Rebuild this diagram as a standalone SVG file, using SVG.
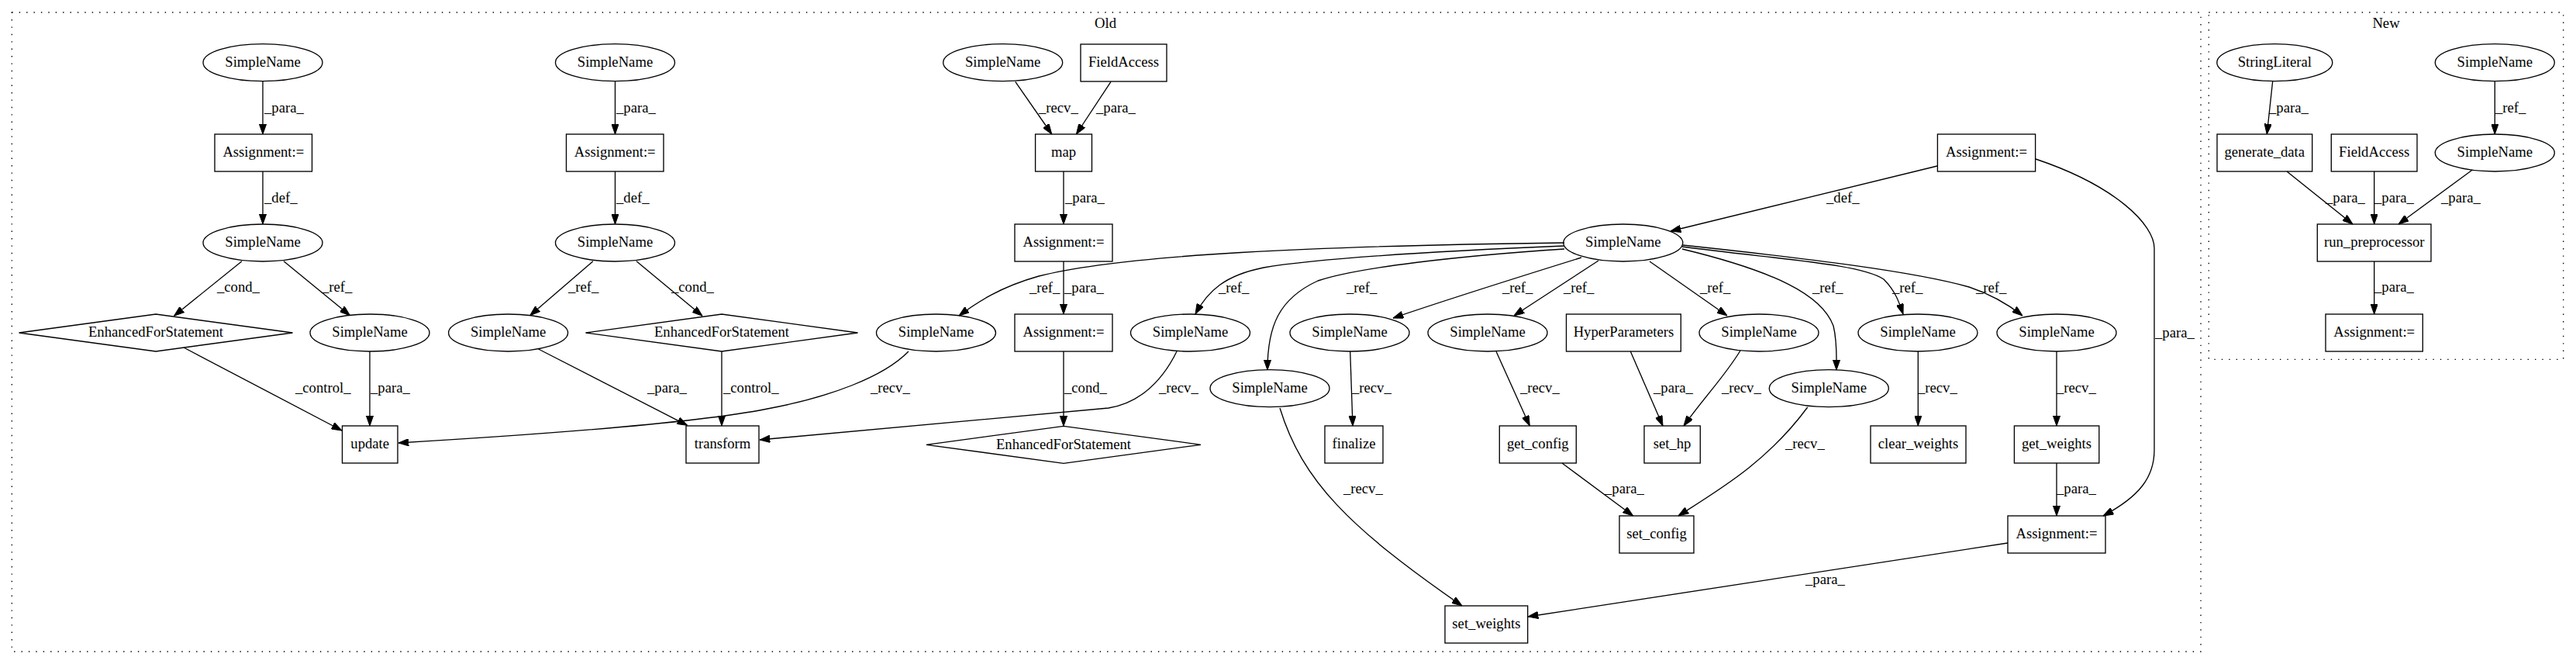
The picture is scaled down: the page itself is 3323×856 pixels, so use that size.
<svg xmlns="http://www.w3.org/2000/svg" width="3323" height="856" viewBox="0 0 3323 856">
<style>
text{font-family:"Liberation Serif","Times New Roman",serif;font-size:18.67px;fill:#000}
.m{text-anchor:middle}
.nd ellipse,.nd rect,.nd polygon{fill:none;stroke:#000;stroke-width:1.33}
.cl{fill:none;stroke:#000;stroke-width:1.33;stroke-dasharray:1.4,8}
#edges path{fill:none;stroke:#000;stroke-width:1.33;marker-end:url(#ah)}
</style>
<defs>
<marker id="ah" viewBox="0 0 13.3 9.4" refX="13.3" refY="4.7" markerWidth="13.3" markerHeight="9.4" markerUnits="userSpaceOnUse" orient="auto"><path d="M0,0 L13.3,4.7 L0,9.4 z" fill="#000" stroke="#000" stroke-width="1"/></marker>
</defs>
<rect width="3323" height="856" fill="#fff"/>
<g id="cluster_old"><rect class="cl" x="15.3" y="16" width="2823.7" height="824"/><text class="m" x="1426" y="36">Old</text></g>
<g id="cluster_new"><rect class="cl" x="2849.3" y="16" width="457.4" height="447.3"/><text class="m" x="3078" y="36">New</text></g>

<g id="edges">
<path d="M339,104.7 L339,173"/>
<path d="M339,221 L339,289"/>
<path d="M312,336.7 L224.5,407.3"/>
<path d="M366,336.7 L451.5,406.7"/>
<path d="M237,448 L441,555"/>
<path d="M477,453 L477,549"/>
<path d="M793.5,104.7 L793.5,173"/>
<path d="M793.5,221 L793.5,289"/>
<path d="M765,336.7 L683.7,406.7"/>
<path d="M821,336.7 L906,407.3"/>
<path d="M694.6,450 L886.6,548.3"/>
<path d="M931,453 L931,549"/>
<path d="M1309.8,105.3 L1356.8,173"/>
<path d="M1433,105.3 L1388.4,173"/>
<path d="M1372,221 L1372,289"/>
<path d="M1372,337 L1372,405"/>
<path d="M1372,453 L1372,549.3"/>
<path d="M1172,453 C1140,486 1070,512 990,527 C900,545 700,560 514,571"/>
<path d="M1518,453 C1495,500 1462,521 1430,526 L980,567"/>
<path d="M2018,313 C1700,317 1450,328 1340,356 C1290,370 1260,390 1237,407"/>
<path d="M2018,317 C1850,324 1700,333 1630,345 C1580,355 1558,375 1542,405"/>
<path d="M2018,321 C1880,330 1750,345 1700,362 C1650,385 1635,420 1635,477"/>
<path d="M2040,332 C1950,360 1870,385 1797,410"/>
<path d="M2062,336 L1953,407"/>
<path d="M2128,337 L2228,407"/>
<path d="M2170,321 C2290,350 2350,380 2365,420 C2370,440 2369,460 2369,477"/>
<path d="M2170,318 C2300,335 2400,340 2430,360 C2445,375 2450,390 2455,405"/>
<path d="M2171,316 C2330,333 2470,350 2540,370 C2570,380 2590,392 2609,407"/>
<path d="M2499,214 L2155,298"/>
<path d="M2626,205 C2730,240 2779,290 2779,320 L2779,580 C2779,615 2760,640 2713,665"/>
<path d="M1651,526 C1680,620 1740,680 1886,781"/>
<path d="M1741.7,453 L1745,549"/>
<path d="M1930,453 L1973.3,549"/>
<path d="M2103.3,453 L2145,549"/>
<path d="M2245,452 C2225,485 2200,510 2172,549"/>
<path d="M2331.7,525 C2280,595 2220,630 2165,665"/>
<path d="M2015,597 L2106.7,665"/>
<path d="M2474.3,453 L2474.3,549"/>
<path d="M2653,453 L2653,549"/>
<path d="M2653,597 L2653,665"/>
<path d="M2590,700 L1971,795"/>
<path d="M2931.7,104.7 L2924.3,173"/>
<path d="M3218.3,104.7 L3218.3,173"/>
<path d="M2950,221 L3035,289"/>
<path d="M3062.7,221 L3062.7,289"/>
<path d="M3189.3,219 L3094,289"/>
<path d="M3062.7,337 L3062.7,405"/>
</g>

<g id="edge_labels">
<text x="341" y="145">_para_</text>
<text x="341" y="261">_def_</text>
<text x="280" y="376">_cond_</text>
<text x="415" y="376">_ref_</text>
<text x="381" y="506">_control_</text>
<text x="478" y="506">_para_</text>
<text x="795" y="145">_para_</text>
<text x="795" y="261">_def_</text>
<text x="733" y="376">_ref_</text>
<text x="866" y="376">_cond_</text>
<text x="835" y="506">_para_</text>
<text x="933" y="506">_control_</text>
<text x="1340" y="145">_recv_</text>
<text x="1414" y="145">_para_</text>
<text x="1374" y="261">_para_</text>
<text x="1328" y="377">_ref_</text>
<text x="1373" y="377">_para_</text>
<text x="1572" y="377">_ref_</text>
<text x="1373" y="506">_cond_</text>
<text x="1123" y="506">_recv_</text>
<text x="1495" y="506">_recv_</text>
<text x="1737" y="377">_ref_</text>
<text x="1938" y="377">_ref_</text>
<text x="2017" y="377">_ref_</text>
<text x="2193" y="377">_ref_</text>
<text x="2338" y="377">_ref_</text>
<text x="2441" y="377">_ref_</text>
<text x="2549" y="377">_ref_</text>
<text x="2356" y="261">_def_</text>
<text x="2780" y="435">_para_</text>
<text x="1733" y="636">_recv_</text>
<text x="1744" y="506">_recv_</text>
<text x="1961" y="506">_recv_</text>
<text x="2133" y="506">_para_</text>
<text x="2221" y="506">_recv_</text>
<text x="2303" y="578">_recv_</text>
<text x="2070" y="636">_para_</text>
<text x="2474" y="506">_recv_</text>
<text x="2653" y="506">_recv_</text>
<text x="2653" y="636">_para_</text>
<text x="2329" y="753">_para_</text>
<text x="2927" y="145">_para_</text>
<text x="3219" y="145">_ref_</text>
<text x="3000" y="261">_para_</text>
<text x="3063" y="261">_para_</text>
<text x="3149" y="261">_para_</text>
<text x="3063" y="376">_para_</text>
</g>

<g id="n1" class="nd"><ellipse cx="339" cy="80.7" rx="77" ry="24"/><text class="m" x="339" y="86">SimpleName</text></g>
<g id="n2" class="nd"><rect x="277" y="173" width="125.5" height="48"/><text class="m" x="339.8" y="202">Assignment:=</text></g>
<g id="n3" class="nd"><ellipse cx="339" cy="313" rx="77" ry="24"/><text class="m" x="339" y="318">SimpleName</text></g>
<g id="n4" class="nd"><polygon points="24.5,429 201,405 377.5,429 201,453"/><text class="m" x="201" y="434">EnhancedForStatement</text></g>
<g id="n5" class="nd"><ellipse cx="477" cy="429" rx="77" ry="24"/><text class="m" x="477" y="434">SimpleName</text></g>
<g id="n6" class="nd"><rect x="441.5" y="549" width="71.5" height="48"/><text class="m" x="477.2" y="578">update</text></g>
<g id="n7" class="nd"><ellipse cx="793.5" cy="80.7" rx="77" ry="24"/><text class="m" x="793.5" y="86">SimpleName</text></g>
<g id="n8" class="nd"><rect x="730.5" y="173" width="125.5" height="48"/><text class="m" x="793.2" y="202">Assignment:=</text></g>
<g id="n9" class="nd"><ellipse cx="793.5" cy="313" rx="77" ry="24"/><text class="m" x="793.5" y="318">SimpleName</text></g>
<g id="n10" class="nd"><ellipse cx="655.6" cy="429" rx="77" ry="24"/><text class="m" x="655.6" y="434">SimpleName</text></g>
<g id="n11" class="nd"><polygon points="755.5,429 931,405 1106.5,429 931,453"/><text class="m" x="931" y="434">EnhancedForStatement</text></g>
<g id="n12" class="nd"><rect x="885" y="549" width="94" height="48"/><text class="m" x="932" y="578">transform</text></g>
<g id="n13" class="nd"><ellipse cx="1293.7" cy="80.7" rx="77" ry="24"/><text class="m" x="1293.7" y="86">SimpleName</text></g>
<g id="n14" class="nd"><rect x="1394" y="57" width="111" height="48"/><text class="m" x="1449.5" y="86">FieldAccess</text></g>
<g id="n15" class="nd"><rect x="1335.6" y="173" width="72.9" height="48"/><text class="m" x="1372" y="202">map</text></g>
<g id="n16" class="nd"><rect x="1309" y="289" width="126" height="48"/><text class="m" x="1372" y="318">Assignment:=</text></g>
<g id="n17" class="nd"><rect x="1309" y="405" width="126" height="48"/><text class="m" x="1372" y="434">Assignment:=</text></g>
<g id="n18" class="nd"><polygon points="1195,573.3 1372,549.3 1549,573.3 1372,597.3"/><text class="m" x="1372" y="578.5">EnhancedForStatement</text></g>
<g id="n19" class="nd"><ellipse cx="1207.5" cy="429" rx="77" ry="24"/><text class="m" x="1207.5" y="434">SimpleName</text></g>
<g id="n20" class="nd"><ellipse cx="1535.5" cy="429" rx="77" ry="24"/><text class="m" x="1535.5" y="434">SimpleName</text></g>
<g id="n21" class="nd"><ellipse cx="1638" cy="500.7" rx="77" ry="24"/><text class="m" x="1638" y="506">SimpleName</text></g>
<g id="n22" class="nd"><ellipse cx="1741" cy="429" rx="77" ry="24"/><text class="m" x="1741" y="434">SimpleName</text></g>
<g id="n23" class="nd"><rect x="1709" y="549" width="75" height="48"/><text class="m" x="1746.5" y="578">finalize</text></g>
<g id="n24" class="nd"><ellipse cx="1919" cy="429" rx="77" ry="24"/><text class="m" x="1919" y="434">SimpleName</text></g>
<g id="n25" class="nd"><rect x="1934.3" y="549" width="99" height="48"/><text class="m" x="1983.8" y="578">get_config</text></g>
<g id="n26" class="nd"><rect x="2020.5" y="405" width="147.8" height="48"/><text class="m" x="2094.4" y="434">HyperParameters</text></g>
<g id="n27" class="nd"><ellipse cx="2269" cy="429" rx="77" ry="24"/><text class="m" x="2269" y="434">SimpleName</text></g>
<g id="n28" class="nd"><rect x="2121" y="549" width="72.3" height="48"/><text class="m" x="2157" y="578">set_hp</text></g>
<g id="n29" class="nd"><ellipse cx="2359.3" cy="500.7" rx="77" ry="24"/><text class="m" x="2359.3" y="506">SimpleName</text></g>
<g id="n30" class="nd"><rect x="2089" y="665" width="96" height="48"/><text class="m" x="2137" y="694">set_config</text></g>
<g id="n31" class="nd"><ellipse cx="2474" cy="429" rx="77" ry="24"/><text class="m" x="2474" y="434">SimpleName</text></g>
<g id="n32" class="nd"><rect x="2413" y="549" width="123" height="48"/><text class="m" x="2474.5" y="578">clear_weights</text></g>
<g id="n33" class="nd"><ellipse cx="2653" cy="429" rx="77" ry="24"/><text class="m" x="2653" y="434">SimpleName</text></g>
<g id="n34" class="nd"><rect x="2598.4" y="549" width="109.4" height="48"/><text class="m" x="2653" y="578">get_weights</text></g>
<g id="n35" class="nd"><rect x="2590" y="665" width="126" height="48"/><text class="m" x="2653" y="694">Assignment:=</text></g>
<g id="n36" class="nd"><rect x="1864" y="781" width="106.7" height="48"/><text class="m" x="1917.4" y="810">set_weights</text></g>
<g id="n37" class="nd"><ellipse cx="2093.8" cy="313" rx="77" ry="24"/><text class="m" x="2093.8" y="318">SimpleName</text></g>
<g id="n38" class="nd"><rect x="2499.4" y="173" width="126.2" height="48"/><text class="m" x="2562.5" y="202">Assignment:=</text></g>

<g id="m1" class="nd"><ellipse cx="2934.3" cy="80.7" rx="74.5" ry="24"/><text class="m" x="2934.3" y="86">StringLiteral</text></g>
<g id="m2" class="nd"><ellipse cx="3218.3" cy="80.7" rx="77" ry="24"/><text class="m" x="3218.3" y="86">SimpleName</text></g>
<g id="m3" class="nd"><rect x="2860" y="173" width="122.7" height="48"/><text class="m" x="2921.3" y="202">generate_data</text></g>
<g id="m4" class="nd"><rect x="3007.3" y="173" width="110.7" height="48"/><text class="m" x="3062.7" y="202">FieldAccess</text></g>
<g id="m5" class="nd"><ellipse cx="3218.3" cy="197" rx="77" ry="24"/><text class="m" x="3218.3" y="202">SimpleName</text></g>
<g id="m6" class="nd"><rect x="2989.3" y="289" width="146.7" height="48"/><text class="m" x="3062.7" y="318">run_preprocessor</text></g>
<g id="m7" class="nd"><rect x="3000" y="405" width="125.3" height="48"/><text class="m" x="3062.7" y="434">Assignment:=</text></g>
</svg>
